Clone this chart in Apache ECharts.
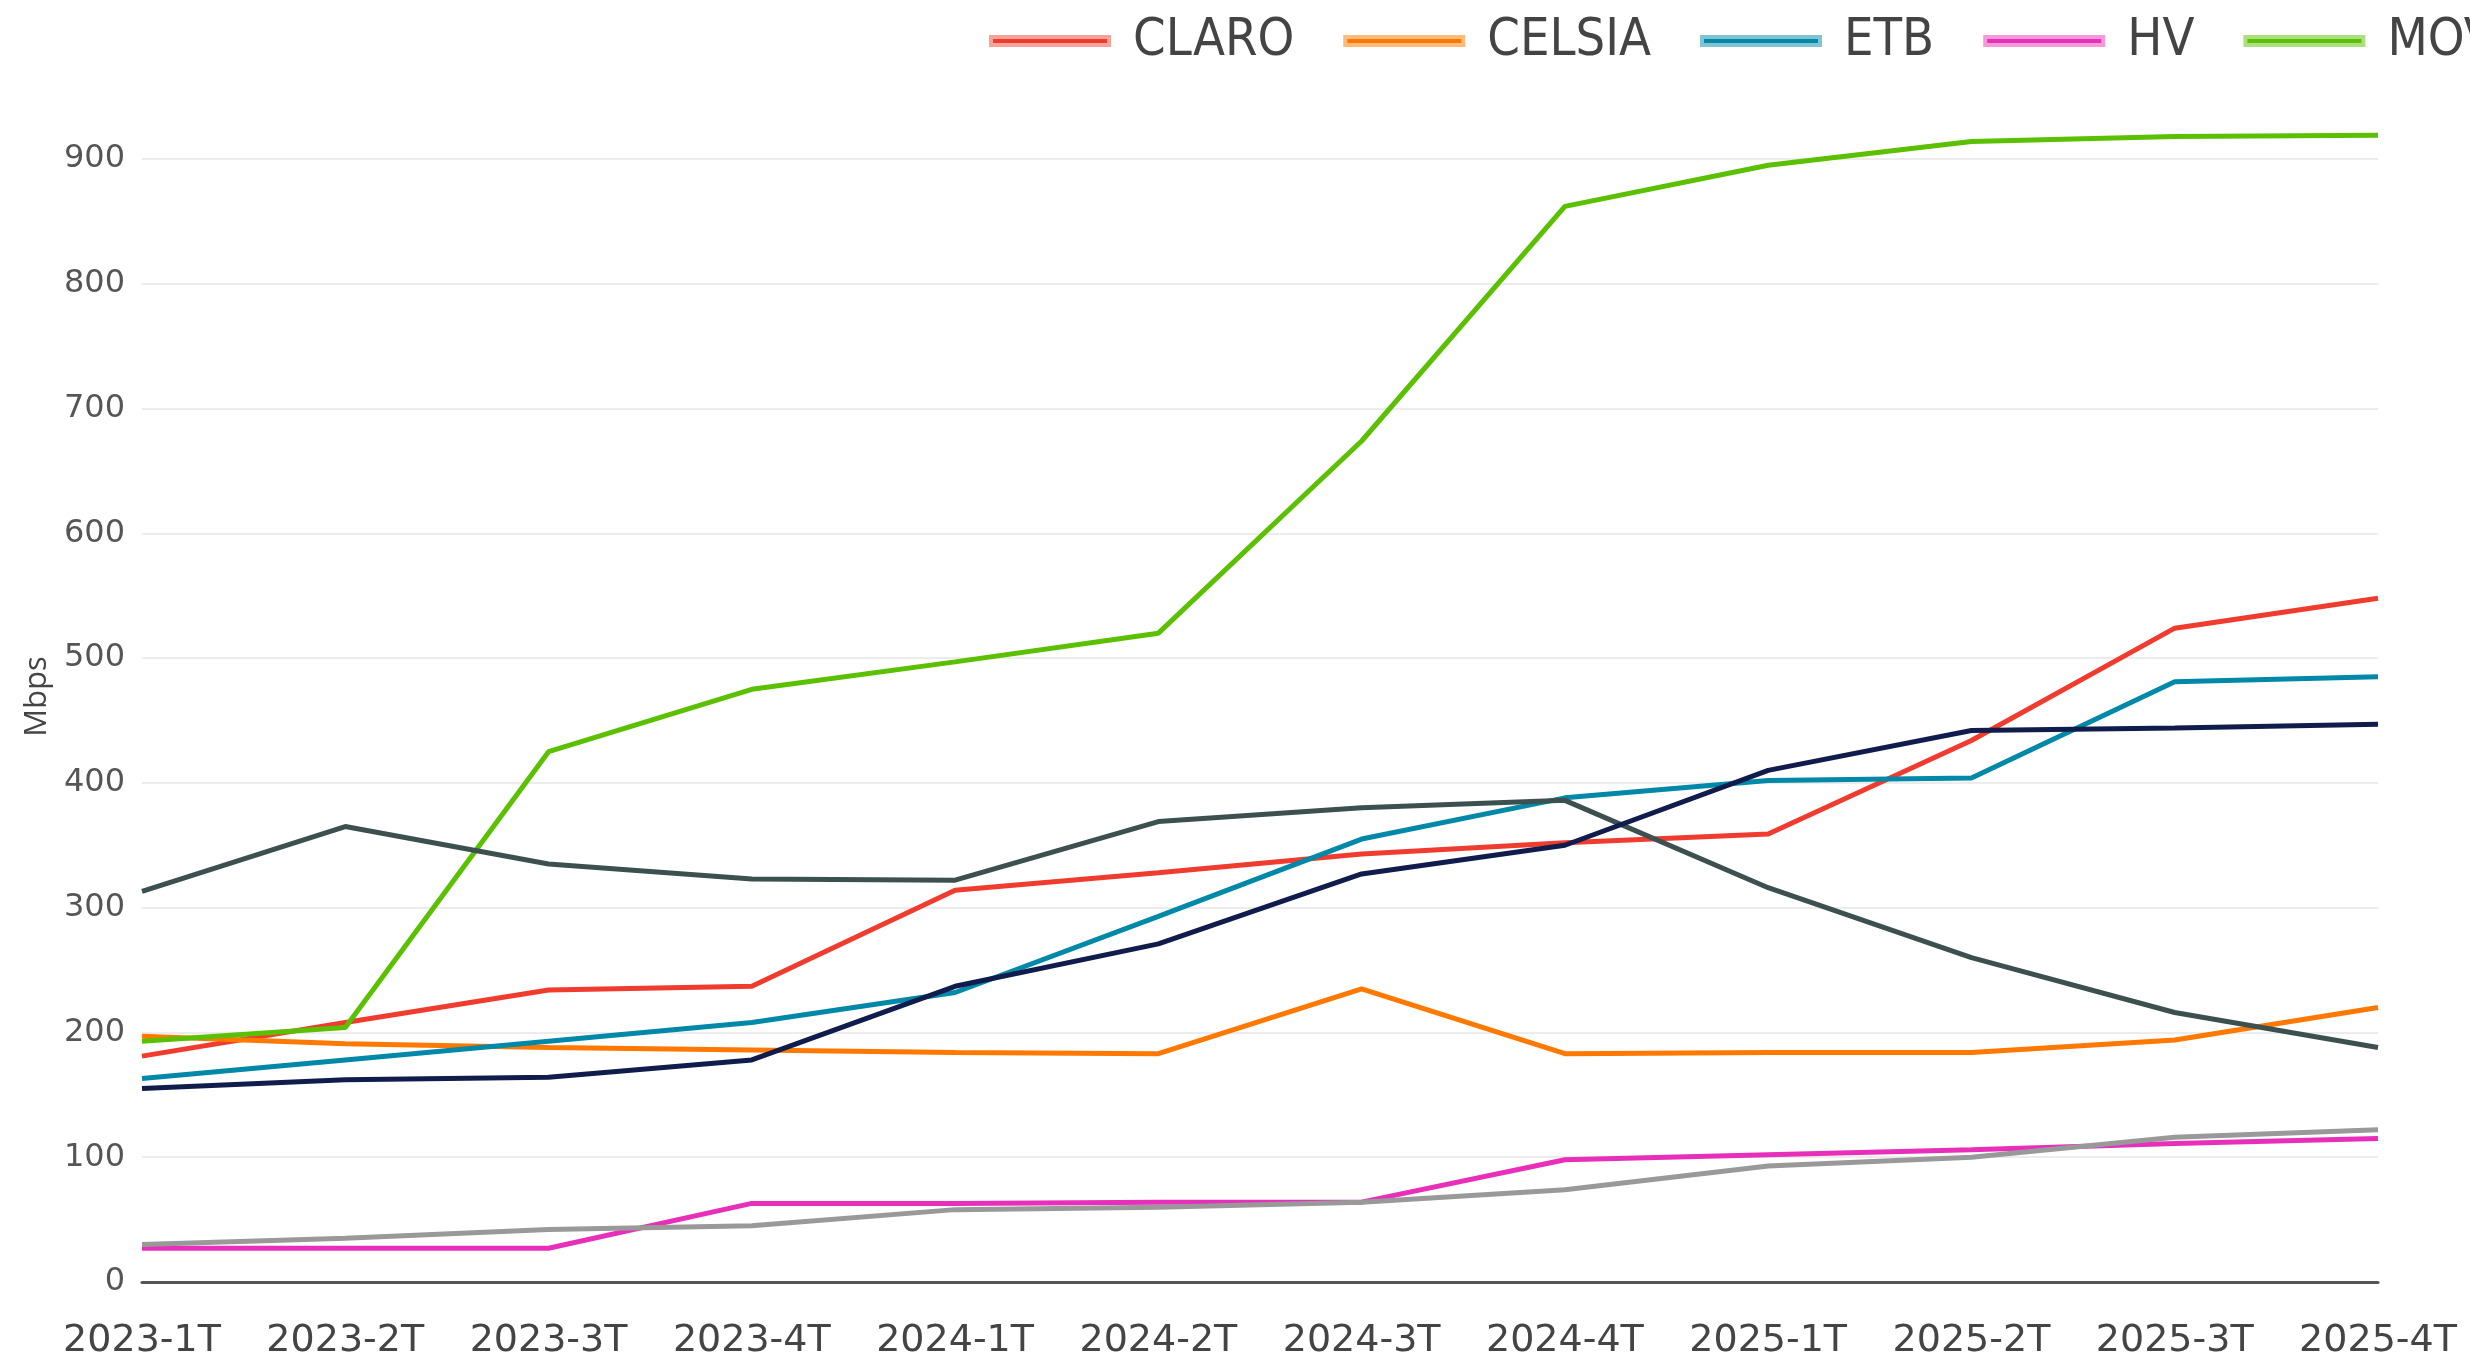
<!DOCTYPE html>
<html>
<head>
<meta charset="utf-8">
<script src="https://cdn.jsdelivr.net/npm/echarts@6/dist/echarts.min.js"></script>
<style>
html,body{margin:0;padding:0;background:#fff;}
#chart{width:2470px;height:1372px;}
</style>
</head>
<body>
<div id="chart"></div>
<script>
const categories = ['2023-1T','2023-2T','2023-3T','2023-4T','2024-1T','2024-2T','2024-3T','2024-4T','2025-1T','2025-2T','2025-3T','2025-4T'];
const yTicks = [0,100,200,300,400,500,600,700,800,900];

const claro    = [181,208,234,237,314,328,343,352,359,434,524,548];
const celsia   = [197,191,188,186,184,183,235,183,184,184,194,220];
const etb      = [163,178,193,208,232,293,355,388,402,404,481,485];
const hv       = [27,27,27,63,63,64,64,98,102,106,111,115];
const movistar = [193,204,425,475,497,520,674,862,895,914,918,919];
const tigo     = [313,365,335,323,322,369,380,386,316,260,216,188];
const wom      = [155,162,164,178,237,271,327,350,410,442,444,447];
const otros    = [30,35,42,45,58,60,64,74,93,100,116,122];

const seriesNames  = ['CLARO','CELSIA','ETB','HV','MOVISTAR','TIGO','WOM','OTROS'];
const seriesData   = [claro, celsia, etb, hv, movistar, tigo, wom, otros];
const seriesColors = ['#f03c2e','#ff7800','#0088a8','#e82fba','#5ac000','#3d5050','#101c4c','#999999'];
const haloColors   = ['#f7a39a','#ffbb7a','#80c4d4','#f49ad9','#acdf80','#9ea8a8','#8790a8','#cccccc'];

const chart = echarts.init(document.getElementById('chart'), null, {renderer:'canvas'});

const series = seriesNames.map((n, i) => ({
  name: n,
  type: 'line',
  data: seriesData[i],
  symbol: 'none',
  clip: false,
  lineStyle: {color: seriesColors[i], width: 5},
  itemStyle: {color: seriesColors[i]},
  emphasis: {disabled: true}
}));

const option = {
  animation: false,
  backgroundColor: '#ffffff',
  legend: {
    left: 984,
    top: 10,
    width: 4000,
    orient: 'horizontal',
    icon: 'rect',
    itemWidth: 118,
    itemHeight: 8,
    itemGap: 49,
    textStyle: {
      fontFamily: '"DejaVu Sans Condensed", "DejaVu Sans", sans-serif',
      fontSize: 52,
      color: '#444444',
      padding: [0, 0, 0, 19],
      lineHeight: 52
    },
    data: seriesNames.map((n, i) => ({
      name: n,
      itemStyle: {color: seriesColors[i], borderColor: haloColors[i], borderWidth: 4}
    }))
  },
  grid: {left: 142, right: 92, top: 159, bottom: 90, containLabel: false},
  xAxis: {
    type: 'category',
    data: categories,
    boundaryGap: false,
    axisTick: {show: false},
    axisLine: {show: true, lineStyle: {color: '#555555', width: 3}},
    axisLabel: {
      margin: 40,
      fontSize: 38,
      fontFamily: '"DejaVu Sans", sans-serif',
      color: '#444444',
      interval: 0
    },
    splitLine: {show: false}
  },
  yAxis: {
    type: 'value',
    min: yTicks[0],
    max: yTicks[yTicks.length - 1],
    interval: 100,
    name: 'Mbps',
    nameLocation: 'middle',
    nameGap: 86,
    nameTextStyle: {
      fontFamily: '"Open Sans", sans-serif',
      fontSize: 31,
      color: '#444444',
      padding: [0, 0, 0, 48]
    },
    axisLine: {show: false},
    axisTick: {show: false},
    axisLabel: {
      margin: 17,
      fontSize: 32,
      fontFamily: '"DejaVu Sans", sans-serif',
      color: '#555555'
    },
    splitLine: {show: true, lineStyle: {color: '#ececec', width: 2}}
  },
  series: series
};

chart.setOption(option);
</script>
</body>
</html>
